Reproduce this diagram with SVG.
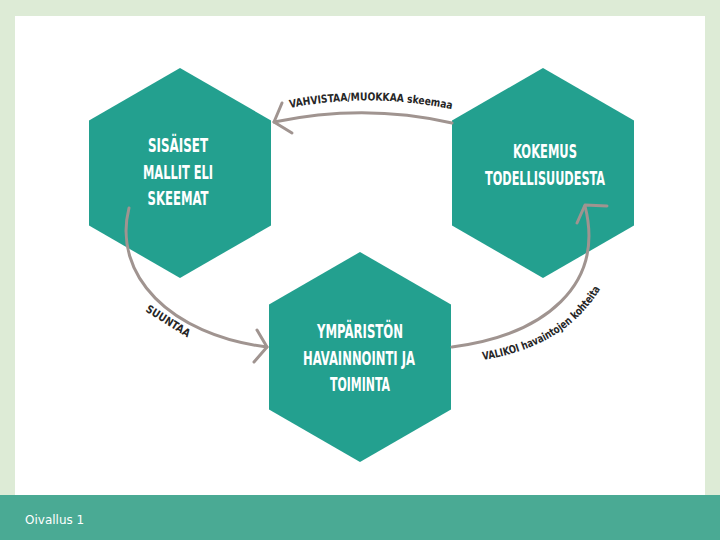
<svg xmlns="http://www.w3.org/2000/svg" width="720" height="540" viewBox="0 0 720 540">
  <style>
    .hex { fill: #23a08f; }
    .hlabel { font-family: "DejaVu Sans Condensed", "DejaVu Sans", sans-serif; font-weight: bold; font-size: 19px; fill: #ffffff; text-anchor: middle; }
    .edge { fill: none; stroke: #a09490; stroke-width: 3; stroke-linecap: round; stroke-linejoin: round; }
    .elabel { font-family: "DejaVu Sans Condensed", "DejaVu Sans", sans-serif; font-weight: bold; font-size: 11px; fill: #262626; }
  </style>
  <defs>
    <path id="p1" d="M 290,108 Q 372,92 455,110"/>
    <path id="p3" d="M 483,360 Q 568,346 602,286"/>
  </defs>
  <rect x="0" y="0" width="720" height="540" fill="#ddebd6"/>
  <rect x="15" y="16" width="690" height="479" fill="#ffffff"/>
  <rect x="0" y="495" width="720" height="45" fill="#4aaa94"/>
  <text x="25" y="524" font-family="DejaVu Sans, sans-serif" font-size="12" fill="#ffffff">Oivallus 1</text>

  <g id="node-sisaiset">
    <polygon class="hex" points="180,68 271,120.5 271,225.5 180,278 89,225.5 89,120.5"/>
    <text class="hlabel" x="178" y="152" textLength="60" lengthAdjust="spacingAndGlyphs">SISÄISET</text>
    <text class="hlabel" x="178" y="179" textLength="70" lengthAdjust="spacingAndGlyphs">MALLIT ELI</text>
    <text class="hlabel" x="178" y="205" textLength="61" lengthAdjust="spacingAndGlyphs">SKEEMAT</text>
  </g>
  <g id="node-kokemus">
    <polygon class="hex" points="543,68 634,120.5 634,225.5 543,278 452,225.5 452,120.5"/>
    <text class="hlabel" x="545" y="158" textLength="64" lengthAdjust="spacingAndGlyphs">KOKEMUS</text>
    <text class="hlabel" x="545" y="185" textLength="120" lengthAdjust="spacingAndGlyphs">TODELLISUUDESTA</text>
  </g>
  <g id="node-ymparisto">
    <polygon class="hex" points="360,252 451,304.5 451,409.5 360,462 269,409.5 269,304.5"/>
    <text class="hlabel" x="360" y="338" textLength="86" lengthAdjust="spacingAndGlyphs">YMPÄRISTÖN</text>
    <text class="hlabel" x="359" y="365" textLength="112" lengthAdjust="spacingAndGlyphs">HAVAINNOINTI JA</text>
    <text class="hlabel" x="360" y="391" textLength="60" lengthAdjust="spacingAndGlyphs">TOIMINTA</text>
  </g>

  <g id="connectors">
    <path class="edge" d="M 452,123 Q 365,103 274,122"/>
    <polyline class="edge" points="282,103 274,122 292,133"/>
    <text class="elabel"><textPath href="#p1" textLength="163" lengthAdjust="spacingAndGlyphs">VAHVISTAA/MUOKKAA skeemaa</textPath></text>

    <path class="edge" d="M 129,208 C 112,275 170,335 267,347"/>
    <polyline class="edge" points="257,330 267,347 254,362"/>
    <text class="elabel" font-size="10.5" transform="translate(145,311) rotate(32)" textLength="50" lengthAdjust="spacingAndGlyphs">SUUNTAA</text>

    <path class="edge" d="M 452,347 C 545,335 605,285 585,206"/>
    <polyline class="edge" points="577,223 585,205 607,206"/>
    <text class="elabel" font-size="10.5"><textPath href="#p3" textLength="142" lengthAdjust="spacingAndGlyphs">VALIKOI havaintojen kohteita</textPath></text>
  </g>
</svg>
